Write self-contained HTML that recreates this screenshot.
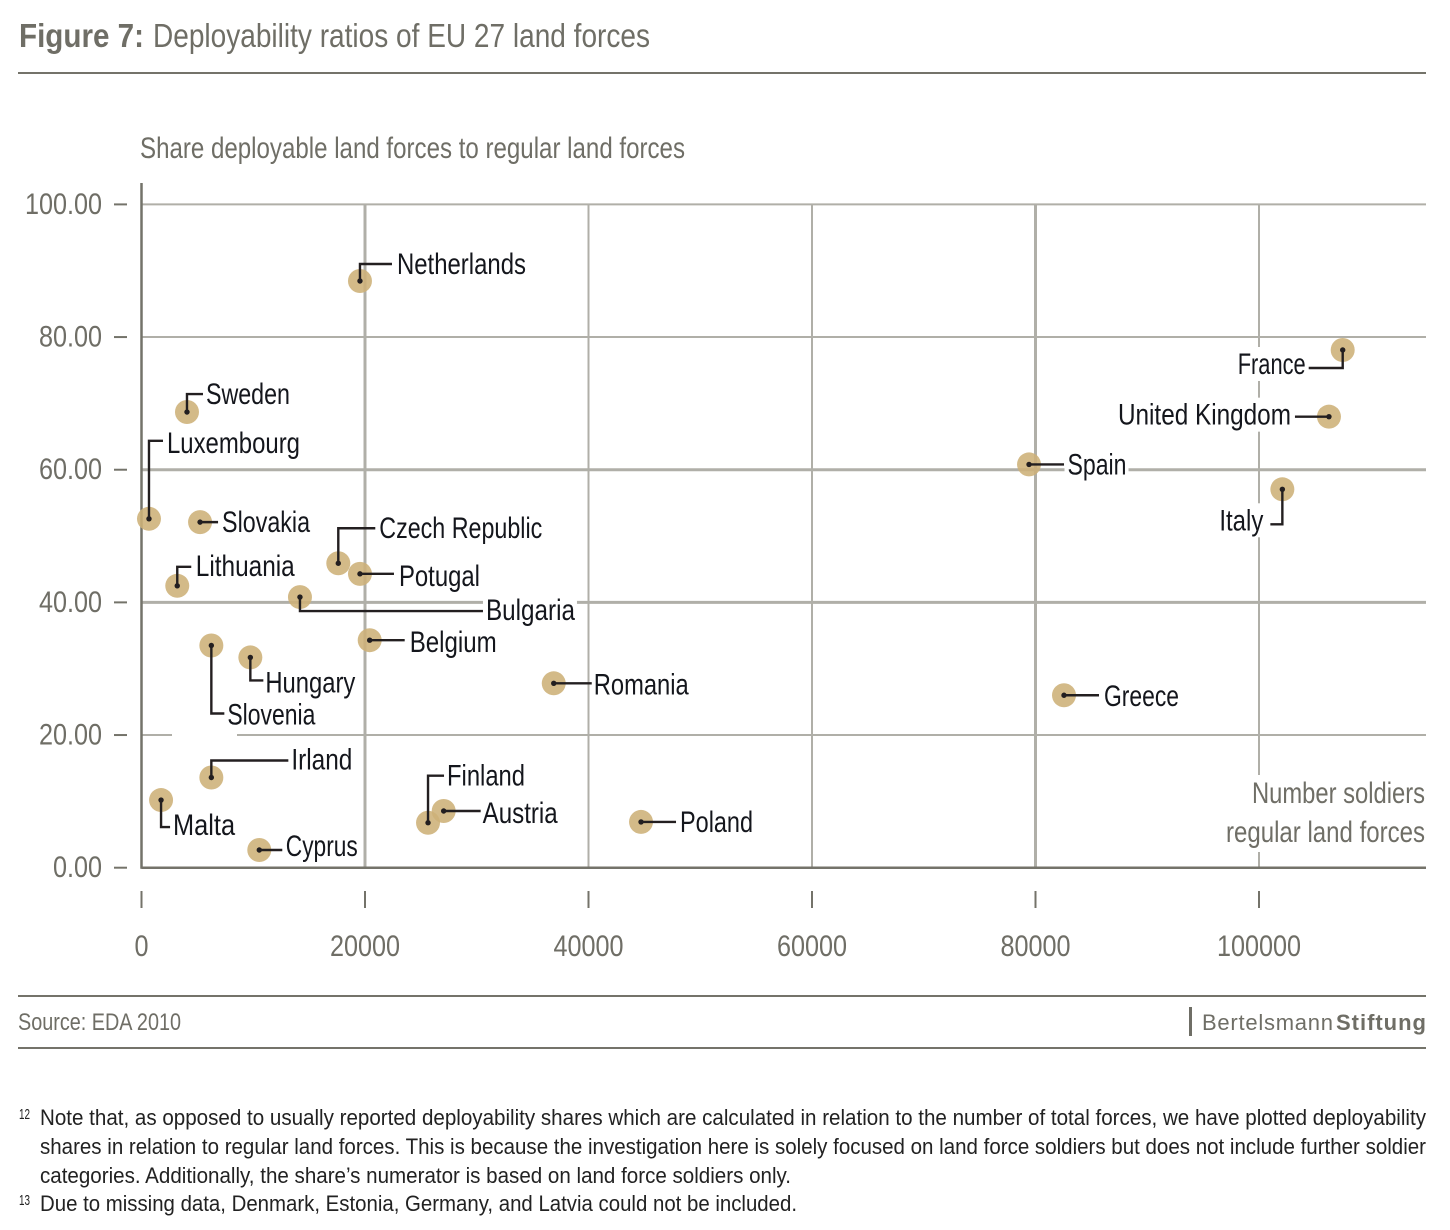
<!DOCTYPE html>
<html lang="en">
<head>
<meta charset="utf-8">
<title>Figure 7: Deployability ratios of EU 27 land forces</title>
<style>
html,body{margin:0;padding:0;background:#fff;}
svg{display:block;font-family:"Liberation Sans",sans-serif;}
</style>
</head>
<body>
<svg id="chart" width="1450" height="1230" viewBox="0 0 1450 1230" xmlns="http://www.w3.org/2000/svg">
  <g fill="#6f6e66" font-size="33">
    <text x="19" y="47" font-weight="bold" textLength="125" lengthAdjust="spacingAndGlyphs">Figure 7:</text>
    <text x="153" y="47" textLength="497" lengthAdjust="spacingAndGlyphs">Deployability ratios of EU 27 land forces</text>
  </g>
  <rect x="18" y="72" width="1408" height="2" fill="#74736a"/>
  <text x="140" y="158" font-size="30" fill="#6f6e66" textLength="545" lengthAdjust="spacingAndGlyphs">Share deployable land forces to regular land forces</text>
  <g id="grid"></g>
  <g id="halos"></g>
  <g id="axes"></g>
  <g id="points"></g>
  <g id="leaders"></g>
  <g id="labels"></g>
  <g fill="#6f6e66" font-size="30">
    <text x="1425" y="803" text-anchor="end" textLength="173" lengthAdjust="spacingAndGlyphs">Number soldiers</text>
    <text x="1425" y="842" text-anchor="end" textLength="199" lengthAdjust="spacingAndGlyphs">regular land forces</text>
  </g>
  <rect x="18" y="995" width="1408" height="2" fill="#74736a"/>
  <text x="18" y="1030" font-size="24" fill="#6f6e66" textLength="163" lengthAdjust="spacingAndGlyphs">Source: EDA 2010</text>
  <g fill="#6f6e66" font-size="22">
    <rect x="1189" y="1007" width="3" height="29"/>
    <text x="1202" y="1030" textLength="131" lengthAdjust="spacing">Bertelsmann</text>
    <text x="1336" y="1030" font-weight="bold" textLength="90" lengthAdjust="spacing">Stiftung</text>
  </g>
  <rect x="18" y="1047" width="1408" height="2" fill="#74736a"/>
  <g fill="#222" font-size="22">
    <text x="19" y="1119" font-size="15" textLength="11" lengthAdjust="spacingAndGlyphs">12</text>
    <text x="40" y="1125" textLength="1386" lengthAdjust="spacingAndGlyphs">Note that, as opposed to usually reported deployability shares which are calculated in relation to the number of total forces, we have plotted deployability</text>
    <text x="40" y="1154" textLength="1386" lengthAdjust="spacingAndGlyphs">shares in relation to regular land forces. This is because the investigation here is solely focused on land force soldiers but does not include further soldier</text>
    <text x="40" y="1183" textLength="751" lengthAdjust="spacingAndGlyphs">categories. Additionally, the share’s numerator is based on land force soldiers only.</text>
    <text x="19" y="1205" font-size="15" textLength="11" lengthAdjust="spacingAndGlyphs">13</text>
    <text x="40" y="1211" textLength="757" lengthAdjust="spacingAndGlyphs">Due to missing data, Denmark, Estonia, Germany, and Latvia could not be included.</text>
  </g>
</svg>
<script>
// ---- chart data ----
const countries = ["Netherlands","Sweden","Luxembourg","Slovakia","Czech Republic","Potugal","Lithuania","Bulgaria","Belgium","Slovenia","Hungary","Romania","Irland","Malta","Cyprus","Finland","Austria","Poland","France","United Kingdom","Italy","Spain","Greece"];
const soldiers = [19550,4070,670,5240,17610,19550,3200,14180,20420,6250,9740,36890,6250,1750,10540,25640,27040,44700,107490,106260,102090,79420,82550];
const shares = [88.45,68.7,52.6,52.1,45.9,44.3,42.5,40.8,34.3,33.5,31.7,27.8,13.6,10.2,2.67,6.78,8.55,6.9,78.05,68.0,57.05,60.8,26.0];
const xTicks = [0,20000,40000,60000,80000,100000];
const yTicks = [0,20,40,60,80,100];
const yTickLabels = ["0.00","20.00","40.00","60.00","80.00","100.00"];

// ---- axis functions ----
const X0 = 141.5, PX_PER_X = 0.011175, Y0 = 867.7, PX_PER_Y = 6.633, RIGHT = 1426;
function xScale(v){ return X0 + v * PX_PER_X; }
function yScale(v){ return Y0 - v * PX_PER_Y; }

// ---- annotation styling: how each callout is drawn relative to its point ----
const calloutStyle = {
  "Netherlands":{dy:-17,dx:32,tx:37,ty:-7,w:129},
  "Sweden":{dy:-18,dx:16,tx:19,ty:-8,w:84},
  "Luxembourg":{dy:-78,dx:14,tx:18,ty:-66,w:133},
  "Slovakia":{dy:0,dx:18,tx:22,ty:10,w:88},
  "Czech Republic":{dy:-35,dx:37,tx:41,ty:-25,w:163},
  "Potugal":{dy:0,dx:34,tx:39,ty:12,w:81},
  "Lithuania":{dy:-19,dx:14,tx:18.5,ty:-10,w:99},
  "Bulgaria":{dy:14,dx:183,tx:186,ty:23,w:89,halo:true},
  "Belgium":{dy:0,dx:35,tx:40,ty:12,w:87},
  "Slovenia":{dy:68,dx:13,tx:16,ty:79,w:88},
  "Hungary":{dy:23,dx:13,tx:15,ty:35,w:90},
  "Romania":{dy:0,dx:38,tx:40,ty:11,w:95},
  "Irland":{dy:-17,dx:77,tx:80,ty:-8,w:61},
  "Malta":{dy:27,dx:9,tx:12,ty:35,w:62},
  "Cyprus":{dy:0,dx:23,tx:26.5,ty:6,w:72},
  "Finland":{dy:-47,dx:16,tx:19,ty:-37,w:78},
  "Austria":{dy:0,dx:37,tx:39,ty:12,w:75},
  "Poland":{dy:0,dx:35,tx:39,ty:10,w:73},
  "France":{dy:18,dx:-34,tx:-105,ty:24,w:68,halo:true},
  "United Kingdom":{dy:0,dx:-34,tx:-211,ty:8,w:173,halo:true},
  "Italy":{dy:35,dx:-12,tx:-63,ty:41,w:44,halo:true},
  "Spain":{dy:0,dx:35,tx:38.5,ty:10,w:59,halo:true},
  "Greece":{dy:0,dx:35,tx:40,ty:11,w:75}
};

const NS = "http://www.w3.org/2000/svg";
function make(tag, parent, attrs){
  const el = document.createElementNS(NS, tag);
  for (const k in attrs) el.setAttribute(k, attrs[k]);
  parent.appendChild(el);
  return el;
}
const grid = document.getElementById("grid");
const halos = document.getElementById("halos");
const axes = document.getElementById("axes");
const pointsG = document.getElementById("points");
const leaders = document.getElementById("leaders");
const labels = document.getElementById("labels");
const GRID = "#b0afa8", AXIS = "#74736a";

// horizontal gridlines
yTicks.forEach(function(t){
  if (t === 0) return;
  const line = make("line", grid, {x1:X0, x2:RIGHT, y1:yScale(t), y2:yScale(t), stroke:GRID, "stroke-width":(t===40||t===60)?3:2});
  
  
});
// vertical gridlines
xTicks.forEach(function(t){
  if (t === 0) return;
  const line = make("line", grid, {x1:xScale(t), x2:xScale(t), y1:yScale(100), y2:Y0, stroke:GRID, "stroke-width":(t===20000||t===80000)?3:2});
  
  
});
// breaks in the gridlines
const gapA = make("rect", halos, {x:172, y:yScale(20)-3, width:65, height:6, fill:"#fff"});


const gapB = make("rect", halos, {x:xScale(100000)-3, y:775, width:6, height:77, fill:"#fff"});



// axis lines
const yAxis = make("line", axes, {x1:X0, x2:X0, y1:183, y2:Y0+1, stroke:AXIS, "stroke-width":2.5});


const xAxis = make("line", axes, {x1:X0, x2:RIGHT, y1:Y0, y2:Y0, stroke:AXIS, "stroke-width":2.5});



// y ticks and labels
yTicks.forEach(function(t,i){
  const tick = make("line", axes, {x1:114, x2:127, y1:yScale(t), y2:yScale(t), stroke:AXIS, "stroke-width":2});
  
  
  const label = make("text", axes, {transform:"translate(102,"+(yScale(t)+9.5)+") scale(.84,1)", "text-anchor":"end", "font-size":30, fill:"#6f6e66"});
  label.textContent = yTickLabels[i];
  
  
});
// x ticks and labels
xTicks.forEach(function(t){
  const tick = make("line", axes, {x1:xScale(t), x2:xScale(t), y1:891, y2:908, stroke:AXIS, "stroke-width":2});
  
  
  const label = make("text", axes, {transform:"translate("+xScale(t)+",956) scale(.84,1)", "text-anchor":"middle", "font-size":30, fill:"#6f6e66"});
  label.textContent = String(t);
  
  
});

// points, leaders, labels
countries.forEach(function(name,i){
  const px = xScale(soldiers[i]), py = yScale(shares[i]);
  const c = calloutStyle[name];
  if (c.halo){
    const h = make("rect", halos, {x:px+c.tx-3, y:py+c.ty-27, width:c.w+5, height:34, fill:"#fff"});
    
    
  }
  const circle = make("circle", pointsG, {cx:px, cy:py, r:12, fill:"#cdb078", "fill-opacity":0.88});
  
  
  const dot = make("circle", leaders, {cx:px, cy:py, r:2.7, fill:"#231f20"});
  
  
  const d = "M"+px+" "+py+" L"+px+" "+(py+c.dy)+" L"+(px+c.dx)+" "+(py+c.dy);
  const path = make("path", leaders, {d:d, fill:"none", stroke:"#231f20", "stroke-width":2.4});
  
  
  const text = make("text", labels, {x:px+c.tx, y:py+c.ty, "font-size":30, fill:"#14161c", textLength:c.w, lengthAdjust:"spacingAndGlyphs"});
  text.textContent = name;
  
  
});
</script>
</body>
</html>
